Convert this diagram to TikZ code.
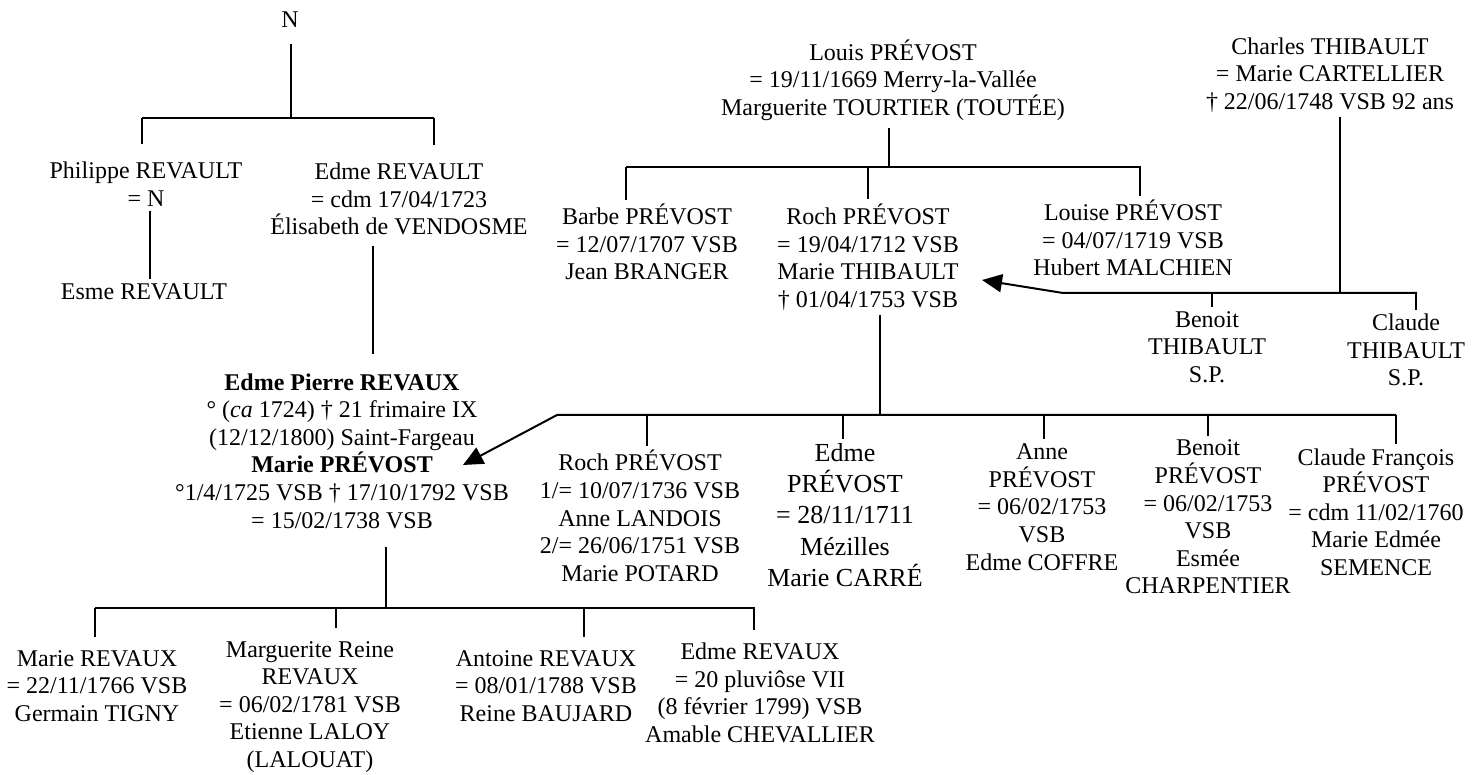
\documentclass[tikz,border=0pt]{standalone}
\usepackage{fontspec}
\setmainfont{Liberation Serif}
\usetikzlibrary{arrows.meta}
\tikzstyle{every node}=[align=center,inner sep=2pt,font=\fontsize{12}{13.8}\selectfont]
\tikzstyle{big}=[font=\fontsize{13}{15.6}\selectfont]
\tikzstyle{link}=[line width=1pt]
\tikzstyle{pointer}=[line width=1pt,-{Triangle[length=10pt,width=9pt]}]

\begin{document}
\begin{tikzpicture}[x=0.5pt,y=-0.5pt]
\useasboundingbox (0,0) rectangle (1479,775);

\node (n) at (290,20) {N};
\node (philippe) at (146,184) {Philippe REVAULT\\= N};
\node (esme) at (144,292) {Esme REVAULT};
\node (edme) at (399,199) {Edme REVAULT\\= cdm 17/04/1723\\Élisabeth de VENDOSME};
\node (pierre) at (342,451) {\textbf{Edme Pierre REVAUX}\\° (\textit{ca} 1724) † 21 frimaire IX\\(12/12/1800) Saint-Fargeau\\\textbf{Marie PRÉVOST}\\°1/4/1725 VSB † 17/10/1792 VSB\\= 15/02/1738 VSB};

\node (louis) at (893,80) {Louis PRÉVOST\\= 19/11/1669 Merry-la-Vallée\\Marguerite TOURTIER (TOUTÉE)};
\node (barbe) at (647,242) {Barbe PRÉVOST\\= 12/07/1707 VSB\\Jean BRANGER};
\node (roch) at (868,257) {Roch PRÉVOST\\= 19/04/1712 VSB\\Marie THIBAULT\\† 01/04/1753 VSB};
\node (louise) at (1133,238) {Louise PRÉVOST\\= 04/07/1719 VSB\\Hubert MALCHIEN};

\node (charles) at (1330,75) {Charles THIBAULT\\= Marie CARTELLIER\\† 22/06/1748 VSB 92 ans};
\node (benoitT) at (1207,347) {Benoit\\THIBAULT\\S.P.};
\node (claudeT) at (1406,350) {Claude\\THIBAULT\\S.P.};

\node (rochP) at (640,516) {Roch PRÉVOST\\1/= 10/07/1736 VSB\\Anne LANDOIS\\2/= 26/06/1751 VSB\\Marie POTARD};
\node[big] (edmeP) at (845,515) {Edme\\PRÉVOST\\= 28/11/1711\\Mézilles\\Marie CARRÉ};
\node (anne) at (1042,507) {Anne\\PRÉVOST\\= 06/02/1753\\VSB\\Edme COFFRE};
\node (benoitP) at (1208,517) {Benoit\\PRÉVOST\\= 06/02/1753\\VSB\\Esmée\\CHARPENTIER};
\node (claudeF) at (1376,512) {Claude François\\PRÉVOST\\= cdm 11/02/1760\\Marie Edmée\\SEMENCE};

\node (marie) at (97,686) {Marie REVAUX\\= 22/11/1766 VSB\\Germain TIGNY};
\node (marguerite) at (310,707) {Marguerite Reine\\REVAUX\\= 06/02/1781 VSB\\Etienne LALOY\\(LALOUAT)};
\node (antoine) at (546,686) {Antoine REVAUX\\= 08/01/1788 VSB\\Reine BAUJARD};
\node (edmeR) at (760,693) {Edme REVAUX\\= 20 pluviôse VII\\(8 février 1799) VSB\\Amable CHEVALLIER};

\coordinate (nb) at (291,118);
\coordinate (nb-l) at (142,118);
\coordinate (nb-r) at (434,118);
\draw[link,shorten <=6pt] (nb |- n.south) -- (nb);
\draw[link] (nb-l) -- (nb-r);
\draw[link,shorten >=6.5pt] (nb-l) -- (nb-l |- philippe.north);
\draw[link,shorten >=6.5pt] (nb-r) -- (nb-r |- edme.north);
\draw[link] ([xshift=2pt]philippe.south) -- ([xshift=2pt]philippe.south |- esme.north);

\coordinate (ep) at (373,300);
\draw[link,shorten <=3pt,shorten >=7.5pt] (ep |- edme.south) -- (ep |- pierre.north);

\coordinate (rb) at (386,608);
\coordinate (rb-l) at (95,608);
\coordinate (rb-r) at (755,608);
\draw[link,shorten <=7pt] (rb |- pierre.south) -- (rb);
\draw[link] (rb-l) -- (rb-r);
\foreach \c/\x in {marie/95,marguerite/336,antoine/584,edmeR/754}{
  \coordinate (\c-top) at (\x,608);
  \draw[link,shorten >=4.5pt] (\c-top) -- (\c-top |- \c.north);
}

\coordinate (lb) at (889,167);
\coordinate (lb-l) at (626,167);
\coordinate (lb-r) at (1141,167);
\draw[link,shorten <=1.5pt] (lb |- louis.south) -- (lb);
\draw[link] (lb-l) -- (lb-r);
\foreach \c/\x in {barbe/626,roch/868,louise/1140}{
  \coordinate (\c-top) at (\x,167);
  \draw[link] (\c-top) -- (\c-top |- \c.north);
}

\coordinate (pb) at (880,415);
\coordinate (pb-l) at (557,415);
\coordinate (pb-r) at (1396,415);
\coordinate (tipA) at (463,465);
\draw[link] (pb |- roch.south) -- (pb);
\draw[pointer] (pb-r) -- (pb-l) -- (tipA);
\foreach \c/\x in {rochP/647,edmeP/843,anne/1044,benoitP/1208,claudeF/1396}{
  \coordinate (\c-top) at (\x,415);
  \draw[link] (\c-top) -- (\c-top |- \c.north);
}

\coordinate (cb) at (1340,293);
\coordinate (cb-l) at (1063,293);
\coordinate (cb-r) at (1417,293);
\coordinate (tipB) at (982,280);
\draw[link] (cb |- charles.south) -- (cb);
\draw[pointer] (cb-r) -- (cb-l) -- (tipB);
\foreach \c/\x in {benoitT/1212,claudeT/1416}{
  \coordinate (\c-top) at (\x,293);
  \draw[link] (\c-top) -- (\c-top |- \c.north);
}
\end{tikzpicture}
\end{document}
